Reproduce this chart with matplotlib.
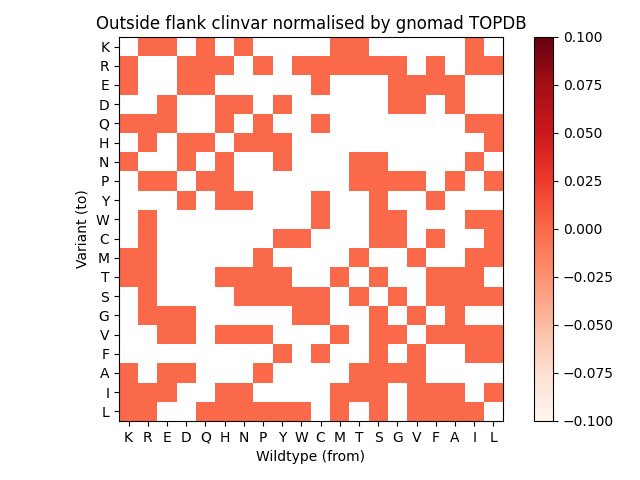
import numpy as np
import matplotlib
matplotlib.use("Agg")
import matplotlib.pyplot as plt

wildtype = list("KREDQHNPYWCMTSGVFAIL")
variant = list("KREDQHNPYWCMTSGVFAIL")

# For each variant row: wildtype columns having a value (0.0); others missing
row_K = "R E Q N M T I"
row_R = "K D Q H P W C M T S G F I L"
row_E = "K D Q C G V F A"
row_D = "E H N Y G V A"
row_Q = "K R E H P C I L"
row_H = "R D Q N P Y L"
row_N = "K D H Y T S I"
row_P = "R E Q H T S G V A L"
row_Y = "D H N C S F"
row_W = "R C S G I L"
row_C = "R Y W S G F L"
row_M = "K R P T V I L"
row_T = "K R H N P Y M S F A I"
row_S = "R N P Y W C T G F A I L"
row_G = "R E D W C S V A"
row_V = "E D H N P M S G F A I L"
row_F = "Y C S V I L"
row_A = "K E D P T S G V"
row_I = "K R E H N M T S V F A L"
row_L = "K R Q H N P Y W M S V F A I"

rows = [row_K, row_R, row_E, row_D, row_Q, row_H, row_N, row_P, row_Y, row_W,
        row_C, row_M, row_T, row_S, row_G, row_V, row_F, row_A, row_I, row_L]

data = np.full((len(variant), len(wildtype)), np.nan)
for i, r in enumerate(rows):
    for aa in r.split():
        data[i, wildtype.index(aa)] = 0.0

fig = plt.figure(figsize=(6.4, 4.8), dpi=100)
ax = fig.add_axes([119/640, 59/480, 384/640, 384/480])
im = ax.imshow(data, cmap="Reds", vmin=-0.1, vmax=0.1, aspect="auto")
ax.set_xticks(range(len(wildtype)))
ax.set_xticklabels(wildtype)
ax.set_yticks(range(len(variant)))
ax.set_yticklabels(variant)
ax.set_xlabel("Wildtype (from)")
ax.set_ylabel("Variant (to)")
ax.set_title("Outside flank clinvar normalised by gnomad TOPDB")
cax = fig.add_axes([534/640, 59/480, 19/640, 384/480])
fig.colorbar(im, cax=cax)
fig.savefig("out.png", dpi=100)
